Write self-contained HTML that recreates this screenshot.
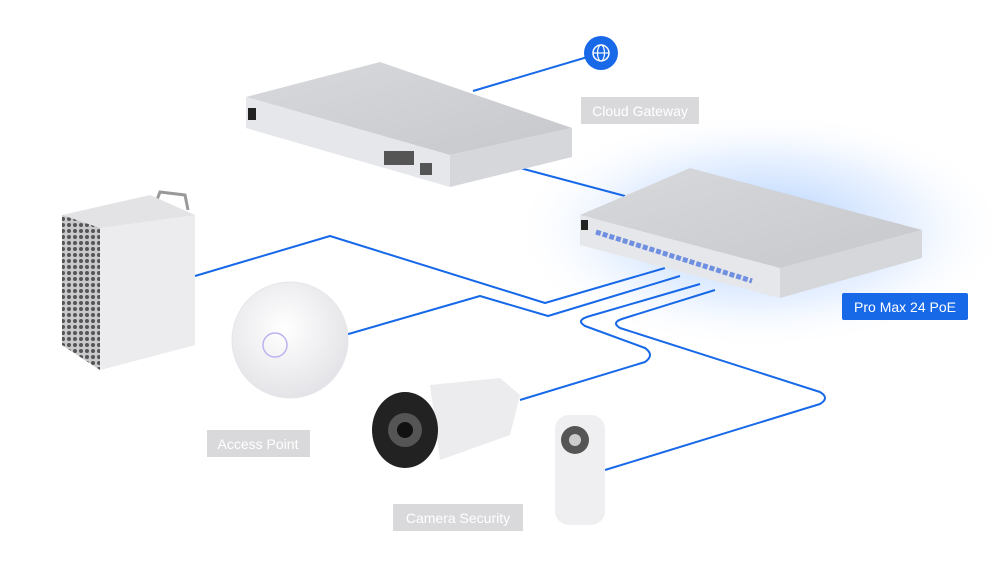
<!DOCTYPE html><html><head><style>body{margin:0;background:#fff}svg{display:block;font-family:"Liberation Sans",sans-serif}</style></head><body>
<svg width="1000" height="573" viewBox="0 0 1000 573">
<defs>
<radialGradient id="glow" cx="0.5" cy="0.5" r="0.5"><stop offset="0" stop-color="#9cc4ff" stop-opacity="0.9"/><stop offset="0.6" stop-color="#cfe2ff" stop-opacity="0.5"/><stop offset="1" stop-color="#fff" stop-opacity="0"/></radialGradient>
<linearGradient id="top" x1="0" y1="0" x2="1" y2="1"><stop offset="0" stop-color="#d8d9dc"/><stop offset="1" stop-color="#c6c8cc"/></linearGradient>
<radialGradient id="ap" cx="0.45" cy="0.4" r="0.6"><stop offset="0" stop-color="#fff"/><stop offset="1" stop-color="#e4e4e8"/></radialGradient>
<pattern id="holes" width="6" height="6" patternUnits="userSpaceOnUse"><rect width="6" height="6" fill="#c9c9cc"/><circle cx="3" cy="3" r="2" fill="#555"/></pattern>
</defs>
<ellipse cx="760" cy="230" rx="250" ry="120" fill="url(#glow)"/>
<g fill="none" stroke="#1769e8" stroke-width="2" stroke-linejoin="round">
<path d="M601 53 L473 91"/>
<path d="M520 168 L625 196"/>
<path d="M195 276 L330 236 L545 303 L665 268"/>
<path d="M345 335 L480 296 L548 316 L680 276"/>
<path d="M520 400 L645 362 Q655 355 645 348 L585 326 Q575 320 590 316 L700 284"/>
<path d="M605 470 L820 404 Q830 398 820 392 L620 328 Q610 322 625 318 L715 290"/>
</g>
<circle cx="601" cy="53" r="17" fill="#1769e8"/>
<circle cx="601" cy="53" r="8" fill="none" stroke="#fff" stroke-width="1.5"/>
<ellipse cx="601" cy="53" rx="3.5" ry="8" fill="none" stroke="#fff" stroke-width="1.2"/>
<line x1="593" y1="53" x2="609" y2="53" stroke="#fff" stroke-width="1.2"/>
<!-- gateway -->
<polygon points="246,97 380,62 572,128 450,155" fill="url(#top)"/>
<polygon points="246,97 450,155 450,187 246,128" fill="#e6e7ea"/>
<polygon points="450,155 572,128 572,157 450,187" fill="#d6d7da"/>
<rect x="248" y="108" width="8" height="12" fill="#222"/>
<g fill="#555"><rect x="384" y="151" width="30" height="14"/><rect x="420" y="163" width="12" height="12"/></g>
<!-- switch -->
<polygon points="580,215 690,168 922,230 780,268" fill="url(#top)"/>
<polygon points="580,215 780,268 780,298 580,245" fill="#e6e7ea"/>
<polygon points="780,268 922,230 922,258 780,298" fill="#d6d7da"/>
<rect x="581" y="220" width="7" height="10" fill="#222"/>
<line x1="596" y1="232" x2="752" y2="281" stroke="#6f8fe0" stroke-width="5" stroke-dasharray="5,2"/>
<!-- mac pro -->
<path d="M155 205 L160 192 L185 195 L188 210" fill="none" stroke="#999" stroke-width="3"/>
<polygon points="62,215 150,195 195,215 195,345 100,370 62,345" fill="#e3e3e6"/>
<polygon points="62,215 100,228 100,370 62,345" fill="url(#holes)"/>
<polygon points="100,228 195,215 195,345 100,370" fill="#ececee"/>
<!-- AP -->
<circle cx="290" cy="340" r="58" fill="url(#ap)" stroke="#e6e6ea"/>
<circle cx="275" cy="345" r="12" fill="none" stroke="#b9b4f0" stroke-width="1.5"/>
<!-- camera -->
<polygon points="430,385 500,378 520,395 510,435 440,460" fill="#ececee"/>
<ellipse cx="405" cy="430" rx="33" ry="38" fill="#222"/>
<circle cx="405" cy="430" r="17" fill="#555"/>
<circle cx="405" cy="430" r="8" fill="#111"/>
<!-- doorbell -->
<rect x="555" y="415" width="50" height="110" rx="14" fill="#efeff1"/>
<circle cx="575" cy="440" r="14" fill="#555"/>
<circle cx="575" cy="440" r="6" fill="#ccc"/>
<!-- labels -->
<g font-size="14" fill="#fff" text-anchor="middle">
<rect x="581" y="97" width="118" height="27" fill="#d9d9db"/><text x="640" y="116">Cloud Gateway</text>
<rect x="207" y="430" width="103" height="27" fill="#d9d9db"/><text x="258" y="449">Access Point</text>
<rect x="393" y="504" width="130" height="27" fill="#d9d9db"/><text x="458" y="523">Camera Security</text>
<rect x="842" y="293" width="126" height="27" rx="2" fill="#1769e8"/><text x="905" y="312">Pro Max 24 PoE</text>
</g>
</svg></body></html>
